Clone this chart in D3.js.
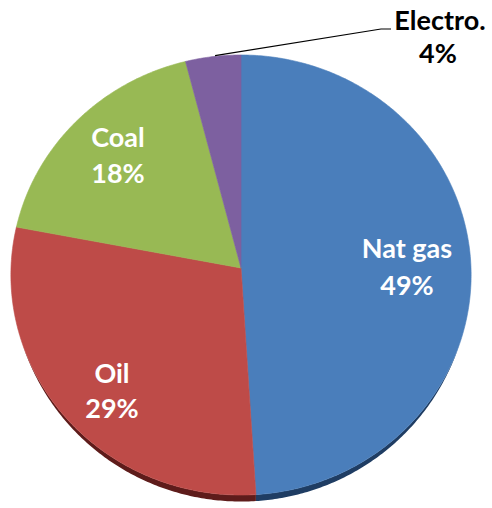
<!DOCTYPE html>
<html>
<head>
<meta charset="utf-8">
<script src="https://cdn.jsdelivr.net/npm/d3@7"></script>
<style>
  html, body { margin: 0; padding: 0; background: #fff; }
  svg { display: block; }
</style>
</head>
<body>
<svg id="chart" width="492" height="508"></svg>
<script>
// Data
const categories = ["Nat gas", "Oil", "Coal", "Electro."];
const values = [49, 29, 18, 4];
const labels = ["49%", "29%", "18%", "4%"];
const colors = ["#4a7ebb", "#be4b48", "#98b954", "#7d60a0"];
const sideColors = ["#1f3d63", "#5e1c1b", "#4c6226", "#3e2d55"];

const W = 492, H = 508;
const cx = 241, cy = 268;
const R = 230, T = 219.8, e = 0.0318;   // perspective tilt
const svg = d3.select("#chart");

// projection of unit-disk point (u right, v down) onto the page
function proj(r, a) {
  const u = r * Math.sin(a), v = -r * Math.cos(a);
  const k = 1 / (1 - e * v);
  return [cx + R * u * k, cy + T * v * k];
}

const pie = d3.pie().sort(null).value(d => d).startAngle(0).endAngle(2 * Math.PI);
const arcs = pie(values);
const line = d3.line().curve(d3.curveLinear);

function sample(a0, a1) {
  const n = Math.max(4, Math.ceil((a1 - a0) / 0.01));
  return d3.range(n + 1).map(i => a0 + (a1 - a0) * i / n);
}

// side wall (visible front)
function depth(a) {
  const c = -Math.cos(a);
  const t = Math.max(0, (c - 0.35) / 0.65);
  return 6.5 * Math.pow(t, 0.8);
}
const sides = svg.append("g");
arcs.forEach((d, i) => {
  const as = sample(d.startAngle, d.endAngle);
  const top = as.map(a => proj(1, a));
  const bot = as.map(a => { const p = proj(1, a); return [p[0], p[1] + depth(a)]; }).reverse();
  sides.append("path")
    .attr("d", line(top.concat(bot)) + "Z")
    .attr("fill", sideColors[i]);
});

// top faces
const faces = svg.append("g");
arcs.forEach((d, i) => {
  const pts = [[cx, cy]].concat(sample(d.startAngle, d.endAngle).map(a => proj(1, a)));
  faces.append("path")
    .attr("d", line(pts) + "Z")
    .attr("fill", colors[i])
    .attr("stroke", colors[i])
    .attr("stroke-width", 0.6)
    .attr("stroke-linejoin", "round");
});

// labels
const font = "Lato, 'Open Sans', sans-serif";
const inLabels = [
  { i: 0, x: 407, y1: 258, y2: 295 },
  { i: 1, x: 112, y1: 383, y2: 418 },
  { i: 2, x: 118, y1: 147, y2: 183 }
];
const lg = svg.append("g")
  .attr("font-family", font)
  .attr("font-weight", 700)
  .attr("font-size", 27)
  .attr("text-anchor", "middle");
inLabels.forEach(l => {
  lg.append("text").attr("x", l.x).attr("y", l.y1).attr("fill", "#fff").text(categories[l.i]);
  lg.append("text").attr("x", l.x).attr("y", l.y2).attr("fill", "#fff").text(labels[l.i]);
});

// outside label for Electro. with leader
const ed = arcs[3];
const mid = (ed.startAngle + ed.endAngle) / 2;
const anchor = proj(1, mid);
svg.append("path")
  .attr("d", line([[anchor[0] + 2, anchor[1] - 1], [381, 29], [391, 29]]))
  .attr("fill", "none")
  .attr("stroke", "#000")
  .attr("stroke-width", 1.2);
lg.append("text").attr("x", 440).attr("y", 30).attr("fill", "#000").text(categories[3]);
lg.append("text").attr("x", 438).attr("y", 63).attr("fill", "#000").text(labels[3]);
</script>
</body>
</html>
